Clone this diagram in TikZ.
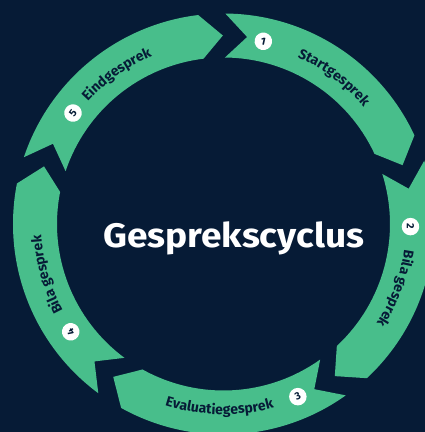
\documentclass[tikz,border=0pt]{standalone}
\usepackage{fontspec}
\setmainfont{Fira Sans}
\usetikzlibrary{decorations.text}
\definecolor{navy}{HTML}{061B36}
\definecolor{mint}{HTML}{48BE8B}
\newcommand\lblfont{\bfseries\fontsize{14}{14}\selectfont}
\tikzset{
  numc/.style={circle, fill=white, minimum size=17.5pt, inner sep=0pt, text=navy,
    font=\bfseries\fontsize{10.5}{10.5}\selectfont},
  seg/.style={fill=mint},
  lbl/.style={decorate, decoration={text along path, text align=center, text color=navy}}
}
\begin{document}
\begin{tikzpicture}[x=1pt,y=1pt]
\useasboundingbox (-223.5,-208) rectangle (201.5,224);
\fill[navy] (-223.5,-208) rectangle (201.5,224);
\def\ro{210.5}\def\ri{166.5}\def\rmid{188.5}\def\dd{6.7}
\foreach \k in {0,...,4}{
  \pgfmathsetmacro\T{89.5-72*\k}
  \pgfmathsetmacro\H{\T-64.6}
  \pgfmathsetmacro\Hd{\H-\dd}
  \pgfmathsetmacro\Td{\T-\dd}
  \fill[seg] (\T:\ro) arc[start angle=\T, end angle=\H, radius=\ro]
    -- (\Hd:\rmid) -- (\H:\ri) arc[start angle=\H, end angle=\T, radius=\ri]
    -- (\Td:\rmid) -- cycle;
}
% labels
\path[lbl, decoration={text={|\lblfont|Startgesprek}}] (98:182.5) arc[start angle=98, end angle=8, radius=182.5];
\path[lbl, decoration={text={|\lblfont|Bila gesprek}}] (24.5:182.5) arc[start angle=24.5, end angle=-65.5, radius=182.5];
\path[lbl, decoration={text={|\lblfont|Evaluatiegesprek}}] (-136.3:190.5) arc[start angle=-136.3, end angle=-46.3, radius=190.5];
\path[lbl, decoration={text={|\lblfont|Bila gesprek}}] (-119:182.5) arc[start angle=-119, end angle=-209, radius=182.5];
\path[lbl, decoration={text={|\lblfont|Eindgesprek}}] (170.5:182.5) arc[start angle=170.5, end angle=80.5, radius=182.5];
% numbers
\node[numc, rotate=-12.3] (n1) at (77.7:187) {1};
\node[numc, rotate=-90.8] (n2) at (-0.8:187) {2};
\node[numc, rotate=23.3] (n3) at (-66.7:188) {3};
\node[numc, rotate=125.2] (n4) at (-144.8:187) {4};
\node[numc, rotate=53.6] (n5) at (143.6:187) {5};
% title
\node[anchor=base, text=white, inner sep=0pt, xscale=1.09, font=\bfseries\fontsize{34}{34}\selectfont] (title) at (10.3,-23.7) {Gesprekscyclus};
\end{tikzpicture}
\end{document}
